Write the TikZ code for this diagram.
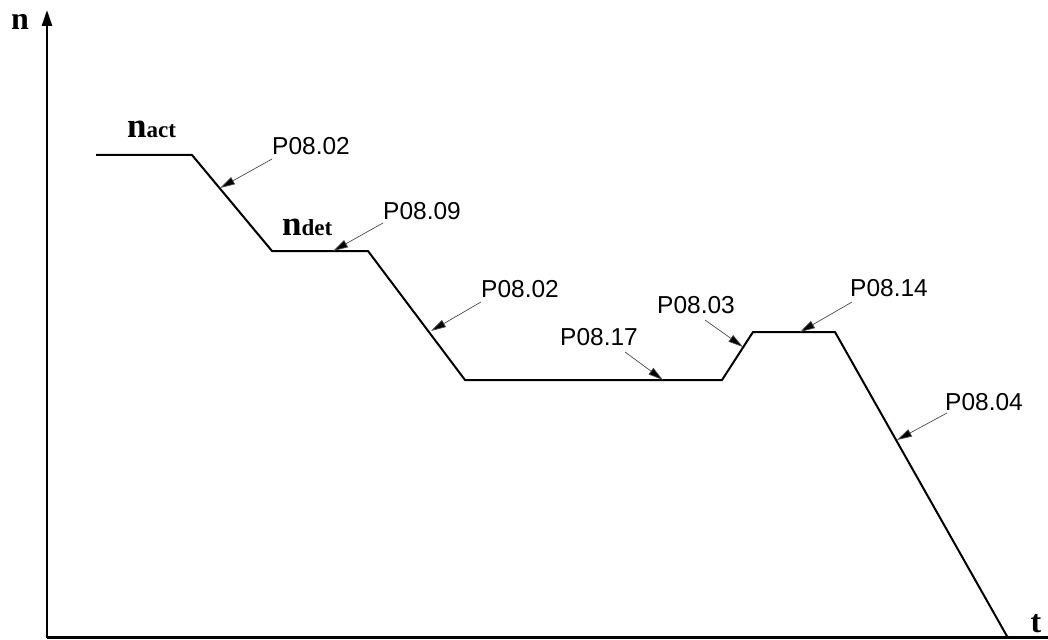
\documentclass[tikz,border=0pt]{standalone}
\usepackage{fontspec}
\setmainfont{Liberation Serif}
\setsansfont{Liberation Sans}
\usetikzlibrary{arrows.meta}
\begin{document}
\begin{tikzpicture}[x=1pt,y=-1pt,
  axis/.style={line width=2.4pt,black},
  curve/.style={line width=2pt,black,line join=miter},
  ann/.style={line width=0.7pt,black!70,-{Triangle[length=15pt,width=8pt,fill=black]}},
  lab/.style={font=\sffamily\fontsize{24.5}{28}\selectfont,inner sep=0pt,anchor=west},
  axlab/.style={font=\bfseries\fontsize{32}{36}\selectfont,inner sep=0pt},
  nlab/.style={inner sep=0pt,anchor=base west}
]
\useasboundingbox (0,0) rectangle (1048,639);
% axes
\coordinate (o) at (47,637.5);
\coordinate (ytop) at (47,10);
\coordinate (xend) at (1060,637.5);
\draw[axis,-{Triangle[length=16pt,width=10pt]}] (o) -- (ytop);
\draw[axis] (o) -- (xend);
\node[axlab] (nax) at (20,22) {n};
\node[axlab,anchor=base] (tax) at (1036,632) {t};
% curve
\coordinate (c0) at (96,155);
\coordinate (c1) at (192,155);
\coordinate (c2) at (272,251);
\coordinate (c3) at (368,251);
\coordinate (c4) at (465,380);
\coordinate (c5) at (722,380);
\coordinate (c6) at (753,332);
\coordinate (c7) at (835,332);
\coordinate (c8) at (1008,638);
\draw[curve] (c0) -- (c1) -- (c2) -- (c3) -- (c4) -- (c5) -- (c6) -- (c7) -- (c8);
% level labels
\node[nlab] (nact) at (127,138) {\bfseries\fontsize{35}{38}\selectfont n\fontsize{23}{26}\selectfont act};
\node[nlab] (ndet) at (282,235) {\bfseries\fontsize{35}{38}\selectfont n\fontsize{23}{26}\selectfont det};
% annotations
\node[lab] (l1) at (272,146) {P08.02};
\node[lab] (l2) at (383,211) {P08.09};
\node[lab] (l3) at (481,289) {P08.02};
\node[lab] (l4) at (560,337) {P08.17};
\node[lab] (l5) at (657,305) {P08.03};
\node[lab] (l6) at (850,288) {P08.14};
\node[lab] (l7) at (945,402) {P08.04};
\coordinate (a1) at (220,188);
\coordinate (a2) at (333,251);
\coordinate (a3) at (431,331);
\coordinate (a4) at (663,380);
\coordinate (a5) at (743,347);
\coordinate (a6) at (800,332);
\coordinate (a7) at (897,440);
\draw[ann] (272,159) -- (a1);
\draw[ann] (383,223) -- (a2);
\draw[ann] (481,302) -- (a3);
\draw[ann] (625,352) -- (a4);
\draw[ann] (705,320) -- (a5);
\draw[ann] (852,302) -- (a6);
\draw[ann] (947,413) -- (a7);
\end{tikzpicture}
\end{document}
